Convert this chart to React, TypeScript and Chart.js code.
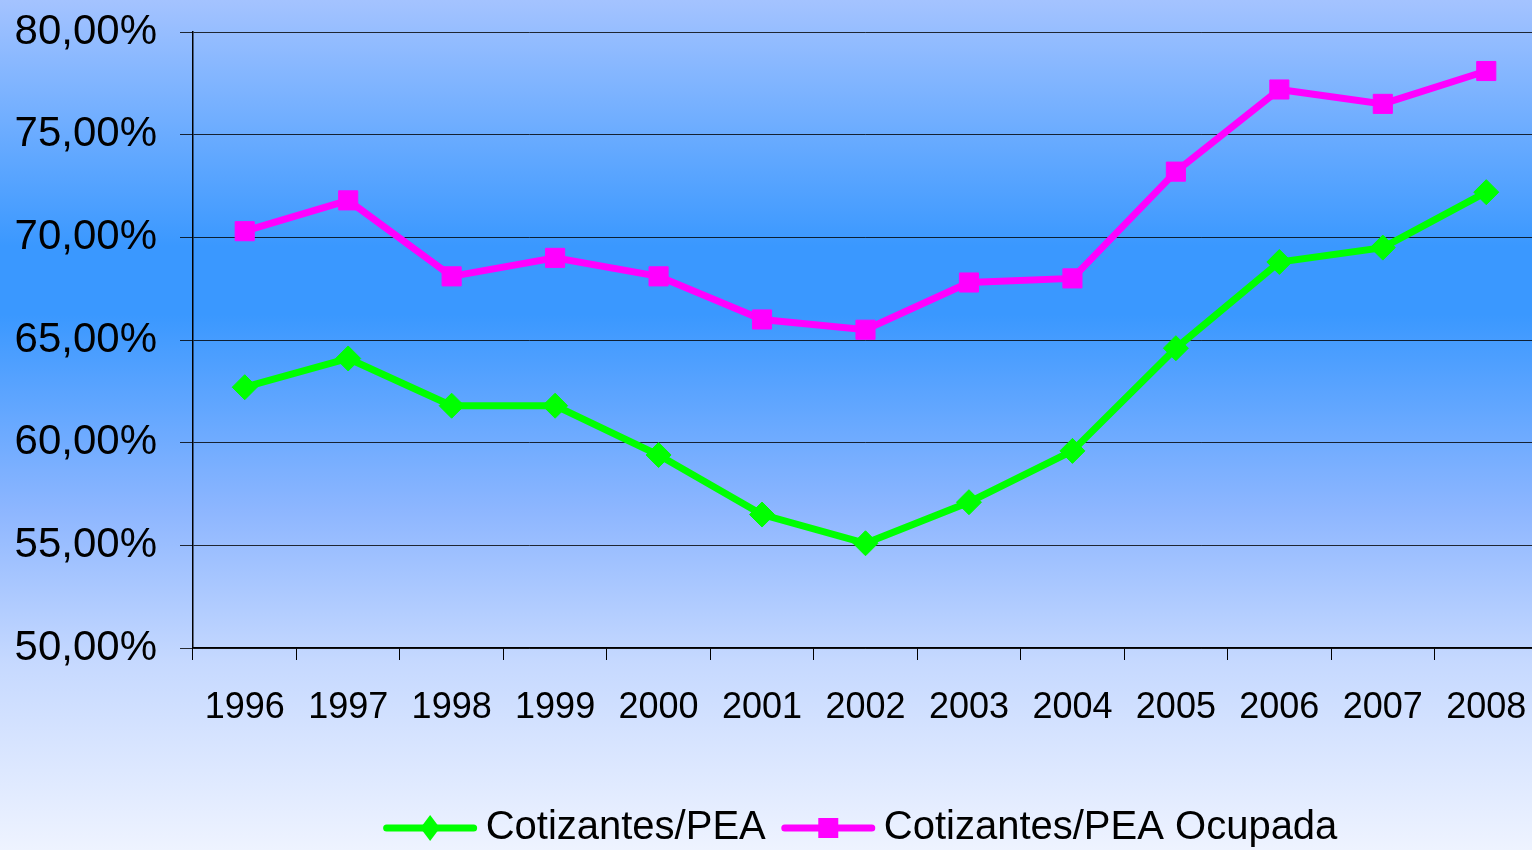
import React, { useEffect, useRef } from "react";
import { Chart, registerables } from "chart.js";

Chart.register(...registerables);

const years = ["1996", "1997", "1998", "1999", "2000", "2001", "2002", "2003", "2004", "2005", "2006", "2007", "2008"];
const cotizantesPEA = [62.7, 64.1, 61.8, 61.8, 59.4, 56.5, 55.1, 57.1, 59.6, 64.6, 68.8, 69.5, 72.2];
const cotizantesPEAOcupada = [70.3, 71.8, 68.1, 69.0, 68.1, 66.0, 65.5, 67.8, 68.0, 73.2, 77.2, 76.5, 78.1];
const seriesLabels = ["Cotizantes/PEA", "Cotizantes/PEA Ocupada"];
const yMin = 50;
const yMax = 80;
const yStep = 5;

const FONT = "'Liberation Sans', Arial, sans-serif";

const bgPlugin = {
  id: "bgGradient",
  beforeDraw(chart: any) {
    const { ctx, width, height } = chart;
    const g = ctx.createLinearGradient(0, 0, 0, height);
    g.addColorStop(0, "#a4c3ff");
    g.addColorStop(0.29, "#3a98ff");
    g.addColorStop(0.37, "#3a98ff");
    g.addColorStop(0.6, "#8db6ff");
    g.addColorStop(0.78, "#c6d9ff");
    g.addColorStop(1, "#eef3ff");
    ctx.save();
    ctx.fillStyle = g;
    ctx.fillRect(0, 0, width, height);
    ctx.restore();
  },
};

const legendPlugin = {
  id: "lineLegend",
  afterDraw(chart: any) {
    const { ctx, chartArea } = chart;
    const ds = chart.data.datasets;
    const lineLen = 93;
    const gapText = 9;
    const gapItem = 16;
    ctx.save();
    ctx.font = `40px ${FONT}`;
    const widths = ds.map((d: any) => ctx.measureText(d.label).width);
    let total = 0;
    widths.forEach((w: number, i: number) => {
      total += lineLen + gapText + w + (i < widths.length - 1 ? gapItem : 0);
    });
    let x = (chartArea.left + chartArea.right) / 2 - total / 2 - 5;
    const y = 828;
    ds.forEach((d: any, i: number) => {
      ctx.strokeStyle = d.borderColor;
      ctx.lineWidth = 7;
      ctx.lineCap = "round";
      ctx.beginPath();
      ctx.moveTo(x + 3, y);
      ctx.lineTo(x + lineLen - 3, y);
      ctx.stroke();
      const cx = x + lineLen / 2;
      ctx.fillStyle = d.pointBackgroundColor;
      ctx.beginPath();
      if (d.pointStyle === "rectRot") {
        const r = 13;
        ctx.moveTo(cx, y - r);
        ctx.lineTo(cx + r * 0.75, y);
        ctx.lineTo(cx, y + r);
        ctx.lineTo(cx - r * 0.75, y);
        ctx.closePath();
      } else {
        const s = 10;
        ctx.rect(cx - s, y - s, 2 * s, 2 * s);
      }
      ctx.fill();
      x += lineLen + gapText;
      ctx.fillStyle = "#000";
      ctx.textBaseline = "middle";
      ctx.textAlign = "left";
      ctx.fillText(d.label, x, y);
      x += widths[i] + gapItem;
    });
    ctx.restore();
  },
};

export default function App() {
  const ref = useRef<HTMLCanvasElement | null>(null);
  useEffect(() => {
    if (!ref.current) return;
    const chart = new Chart(ref.current, {
      type: "line",
      data: {
        labels: years,
        datasets: [
          {
            label: seriesLabels[0],
            data: cotizantesPEA,
            borderColor: "#00ff00",
            backgroundColor: "#00ff00",
            pointBackgroundColor: "#00ff00",
            pointBorderColor: "#00ff00",
            borderWidth: 7,
            pointStyle: "rectRot",
            pointRadius: 12.5,
            pointBorderWidth: 1,
            tension: 0,
            fill: false,
          },
          {
            label: seriesLabels[1],
            data: cotizantesPEAOcupada,
            borderColor: "#ff00ff",
            backgroundColor: "#ff00ff",
            pointBackgroundColor: "#ff00ff",
            pointBorderColor: "#ff00ff",
            borderWidth: 7,
            pointStyle: "rect",
            pointRadius: 13.5,
            pointBorderWidth: 1,
            tension: 0,
            fill: false,
          },
        ],
      },
      options: {
        responsive: false,
        animation: false,
        devicePixelRatio: 1,
        layout: { autoPadding: false, padding: { top: 32, bottom: 100, left: 0, right: 2 } },
        plugins: {
          legend: { display: false },
          tooltip: { enabled: false },
        },
        scales: {
          x: {
            offset: true,
            grid: {
              offset: true,
              drawOnChartArea: false,
              drawTicks: true,
              tickLength: 12,
              color: "#000",
              tickColor: "#000",
            },
            border: { color: "#000", width: 1.5 },
            ticks: {
              color: "#000",
              font: { family: FONT, size: 36 },
              padding: 26,
              maxRotation: 0,
              autoSkip: false,
            },
            afterFit(scale: any) {
              scale.height = 102;
              scale.paddingLeft = 0;
              scale.paddingRight = 0;
            },
          },
          y: {
            min: yMin,
            max: yMax,
            grid: {
              color: "rgba(0,0,0,0.8)",
              tickColor: "rgba(0,0,0,0.8)",
              lineWidth: 1,
              tickLength: 13,
            },
            border: { color: "#000", width: 1.5 },
            ticks: {
              stepSize: yStep,
              color: "#000",
              font: { family: FONT, size: 42 },
              padding: 23,
              callback: (v: any) => Number(v).toFixed(2).replace(".", ",") + "%",
            },
            afterFit(scale: any) {
              scale.width = 193;
              scale.paddingTop = 0;
              scale.paddingBottom = 0;
            },
          },
        },
      },
      plugins: [bgPlugin, legendPlugin],
    });
    return () => chart.destroy();
  }, []);
  return (
    <div style={{ position: "fixed", left: 0, top: 0, width: 1532, height: 850, overflow: "hidden" }}>
      <canvas ref={ref} width={1540} height={850} style={{ display: "block", width: 1540, height: 850 }} />
    </div>
  );
}
